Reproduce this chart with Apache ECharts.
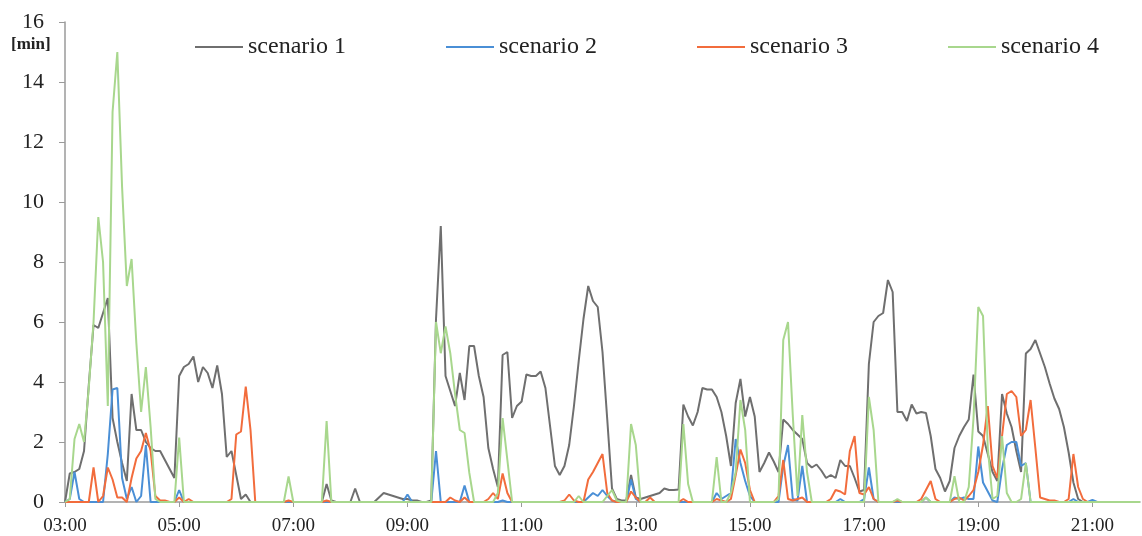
<!DOCTYPE html>
<html>
<head>
<meta charset="utf-8">
<script src="https://cdn.jsdelivr.net/npm/echarts@6/dist/echarts.min.js"></script>
<style>html,body{margin:0;padding:0;background:#fff}#c{width:1142px;height:536px}</style>
</head>
<body>
<div id="c"></div>
<script>
// 5-minute bins from 03:00 to 21:50
const startHour = 3, stepMin = 5, nBins = 227;
const categories = [];
for (let i = 0; i < nBins; i++) {
  const m = startHour * 60 + i * stepMin;
  categories.push(String(Math.floor(m / 60)).padStart(2, '0') + ':' + String(m % 60).padStart(2, '0'));
}
const tickLabels = ['03:00','05:00','07:00','09:00','11:00','13:00','15:00','17:00','19:00','21:00'];
const seriesNames = ['scenario 1','scenario 2','scenario 3','scenario 4'];

const scenario1 = [
  0,0.95,1.0,1.1,1.7,3.9,5.9,5.8,6.3,6.8,2.8,2.0,
  1.3,0.7,3.6,2.4,2.4,2.0,1.8,1.7,1.7,1.4,1.1,0.8,
  4.2,4.5,4.6,4.85,4.0,4.5,4.3,3.8,4.55,3.6,1.5,1.7,
  0.9,0.1,0.25,0,0,0,0,0,0,0,0,0,
  0,0,0,0,0,0,0,0.6,0.05,0,0,0,
  0,0.45,0,0,0,0,0.15,0.3,0.25,0.2,0.15,0.1,
  0.1,0.05,0.05,0,0,0.05,6.1,9.2,4.2,3.7,3.2,4.3,
  3.4,5.2,5.2,4.2,3.5,1.8,1.1,0.5,4.9,5.0,2.8,3.2,
  3.35,4.25,4.2,4.2,4.35,3.8,2.5,1.2,0.9,1.2,1.9,3.2,
  4.7,6.1,7.2,6.7,6.5,5.0,2.75,0.45,0.1,0.05,0.05,0.9,
  0.15,0.1,0.15,0.2,0.25,0.3,0.45,0.4,0.4,0.42,3.25,2.85,
  2.55,3.0,3.8,3.75,3.75,3.5,3.0,2.2,1.2,3.3,4.1,2.85,
  3.5,2.85,1.0,1.3,1.65,1.35,1.0,2.75,2.6,2.4,2.25,2.1,
  1.3,1.15,1.25,1.05,0.8,0.9,0.8,1.4,1.2,1.2,0.8,0.35,
  0.4,4.6,6.0,6.2,6.3,7.4,7.0,3.0,3.0,2.7,3.25,2.95,
  3.0,2.97,2.2,1.1,0.8,0.35,0.7,1.8,2.2,2.5,2.75,4.25,
  2.35,2.2,1.6,1.0,0.7,3.6,2.95,2.5,1.7,1.0,4.95,5.1,
  5.4,4.95,4.5,3.95,3.45,3.1,2.5,1.65,0.65,0.1,0,0,
  0,0,0,0,0,0,0,0,0,0,0
];
const scenario2 = [
  0,0.1,1.0,0.1,0,0,0,0,0,1.6,3.75,3.8,
  0.8,0.1,0.5,0,0.2,1.9,0,0,0,0,0,0,
  0.4,0,0,0,0,0,0,0,0,0,0,0,
  0,0,0,0,0,0,0,0,0,0,0,0,
  0,0,0,0,0,0,0,0,0,0,0,0,
  0,0,0,0,0,0,0,0,0,0,0,0,
  0.25,0,0,0,0,0,1.7,0,0,0,0,0,
  0.55,0,0,0,0,0,0,0,0.05,0,0,0,
  0,0,0,0,0,0,0,0,0,0,0,0,
  0,0,0.15,0.3,0.2,0.4,0.2,0.05,0,0,0,0.75,
  0.1,0,0,0,0,0,0,0,0,0,0,0,
  0,0,0,0,0,0.3,0.1,0.2,0.3,2.1,1.3,0.7,
  0.2,0,0,0,0,0,0,1.2,1.9,0.1,0.05,1.2,
  0,0,0,0,0,0,0,0.1,0,0,0,0,
  0.1,1.15,0.1,0,0,0,0,0,0,0,0,0,
  0,0.15,0,0,0,0,0,0.15,0.1,0.15,0.1,0.1,
  1.85,0.65,0.35,0.05,0,1.1,1.9,2.0,2.0,1.2,1.3,0,
  0,0,0,0,0,0,0,0,0.1,0,0,0,
  0.07,0,0,0,0,0,0,0,0,0,0
];
const scenario3 = [
  0,0,0,0,0,0,1.15,0,0.2,1.15,0.75,0.15,
  0.15,0,0.8,1.45,1.7,2.3,1.7,0.2,0.05,0.05,0,0,
  0.15,0,0.1,0,0,0,0,0,0,0,0,0.1,
  2.25,2.35,3.85,2.4,0,0,0,0,0,0,0,0.05,
  0,0,0,0,0,0,0,0.05,0,0,0,0,
  0,0,0,0,0,0,0,0,0,0,0,0,
  0,0,0,0,0,0,0,0,0,0.15,0.05,0,
  0.15,0,0,0,0,0.1,0.3,0.1,0.95,0.3,0,0,
  0,0,0,0,0,0,0,0,0,0.05,0.25,0.05,
  0,0,0.75,1.0,1.3,1.6,0.3,0.05,0,0,0,0.35,
  0.15,0,0,0.15,0,0,0,0,0,0,0.1,0,
  0,0,0,0,0,0.1,0.05,0,0.1,0.9,1.75,1.3,
  0.4,0,0,0,0,0,0.2,1.4,0.1,0.05,0.1,0.15,
  0,0,0,0,0,0.1,0.4,0.35,0.25,1.7,2.2,0.3,
  0.25,0.5,0.1,0,0,0,0,0.05,0,0,0,0,
  0.1,0.4,0.7,0.1,0,0,0,0.1,0.15,0.05,0.2,0.4,
  1.0,1.9,3.2,1.2,0.8,2.2,3.6,3.7,3.5,2.2,2.4,3.4,
  1.8,0.15,0.1,0.05,0.05,0,0,0.1,1.6,0.5,0.1,0,
  0,0,0,0,0,0,0,0,0,0,0
];
const scenario4 = [
  0,0.1,2.1,2.6,2.0,3.8,6.0,9.5,8.0,3.2,13.0,15.0,
  10.5,7.2,8.1,5.3,3.0,4.5,2.5,0.1,0,0,0,0,
  2.15,0,0,0,0,0,0,0,0,0,0,0,
  0,0,0,0,0,0,0,0,0,0,0,0.85,
  0,0,0,0,0,0,0,2.7,0,0,0,0,
  0,0,0,0,0,0,0,0,0,0,0,0,
  0,0,0,0,0,0,6.0,4.96,5.85,4.96,3.6,2.4,
  2.3,0.97,0,0,0,0,0,0.3,2.8,1.4,0,0,
  0,0,0,0,0,0,0,0,0,0,0,0,
  0.2,0,0,0,0,0,0.2,0.4,0.05,0,0,2.6,
  1.9,0,0,0,0,0,0,0,0,0,2.6,0.6,
  0,0,0,0,0,1.5,0,0,0.3,1.0,3.4,2.4,
  0,0,0,0,0,0,0.1,5.4,6.0,2.9,0.2,2.9,
  1.0,0,0,0,0,0,0,0,0,0,0,0,
  0,3.5,2.4,0,0,0,0,0.1,0,0,0,0,
  0,0.15,0,0,0,0,0,0.86,0,0,0.5,2.8,
  6.5,6.2,1.8,0.1,0.2,2.2,0.3,0,0,0.1,1.3,0,
  0,0,0,0,0,0,0,0,0,0,0,0,
  0,0,0,0,0,0,0,0,0,0,0
];
const seriesData = [scenario1, scenario2, scenario3, scenario4];
const colors = ['#6f6f6f', '#4a8fd6', '#f26c3c', '#a8d78d'];
const legendLeft = [190, 441, 692, 943];
const FONT = '"Liberation Serif", "Times New Roman", serif';

const chart = echarts.init(document.getElementById('c'), null, {renderer: 'canvas'});
const showTick = (idx, val) => tickLabels.indexOf(val) >= 0;

chart.setOption({
  animation: false,
  backgroundColor: '#ffffff',
  color: colors,
  grid: {left: 65, right: 2, top: 22, bottom: 34, containLabel: false},
  legend: seriesNames.map((n, k) => ({
    data: [n], left: legendLeft[k], top: 30,
    icon: 'rect', itemWidth: 48, itemHeight: 2, itemGap: 0,
    textStyle: {fontFamily: FONT, fontSize: 24, color: '#222'}
  })),
  graphic: [{
    type: 'text', left: 11, top: 36,
    style: {text: '[min]', font: 'bold 17px ' + FONT, fill: '#222'}
  }],
  xAxis: {
    type: 'category', data: categories, boundaryGap: false,
    axisLine: {lineStyle: {color: '#9a9a9a', width: 1.5}},
    axisTick: {show: true, interval: showTick, length: 5, lineStyle: {color: '#9a9a9a'}},
    axisLabel: {interval: showTick, fontFamily: FONT, fontSize: 19, color: '#222', margin: 15},
    splitLine: {show: false}
  },
  yAxis: {
    type: 'value', min: 0, max: 16, interval: 2,
    axisLine: {show: true, lineStyle: {color: '#9a9a9a', width: 1.5}},
    axisTick: {show: true, length: 6, lineStyle: {color: '#9a9a9a'}},
    axisLabel: {fontFamily: FONT, fontSize: 22, color: '#222', margin: 21},
    splitLine: {show: false}
  },
  series: seriesNames.map((n, k) => ({
    name: n, type: 'line', data: seriesData[k],
    symbol: 'none', showSymbol: false,
    lineStyle: {width: 2, color: colors[k]},
    itemStyle: {color: colors[k]},
    z: 2 + k
  }))
});
</script>
</body>
</html>
